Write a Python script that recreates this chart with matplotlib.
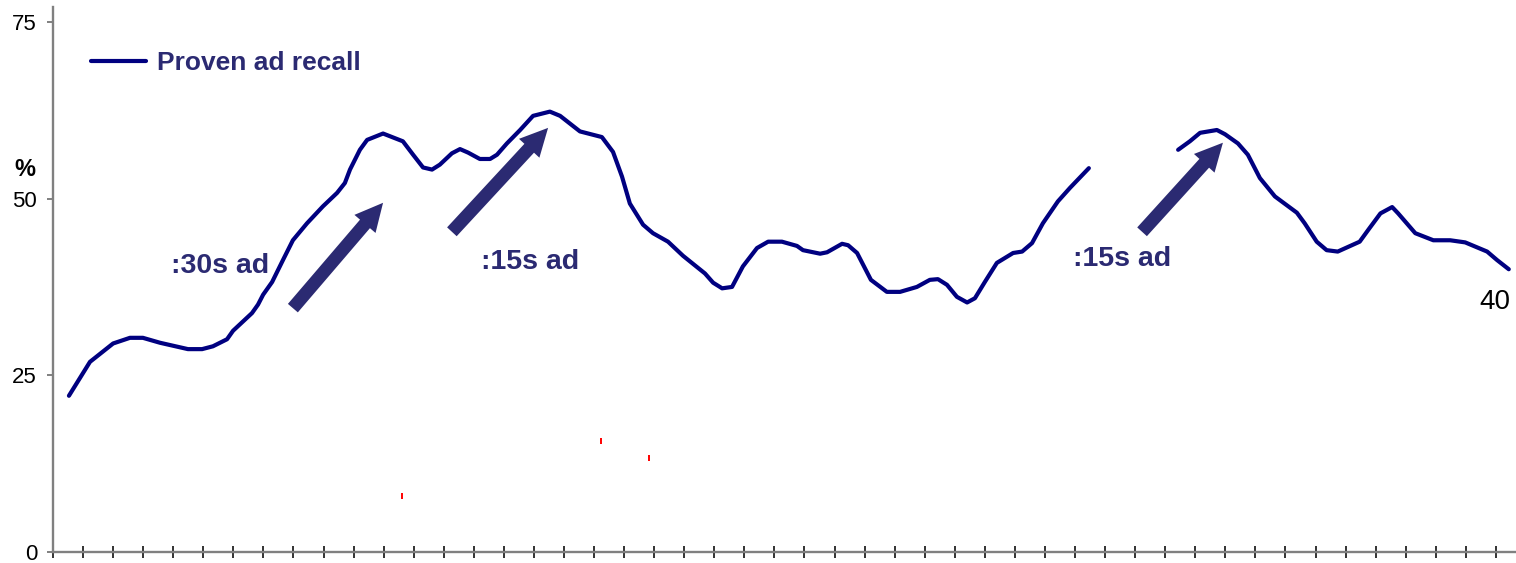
import numpy as np
import matplotlib
matplotlib.use("Agg")
import matplotlib.pyplot as plt

plt.rcParams['font.family'] = ['Liberation Sans', 'DejaVu Sans']

# ---- data (x in category units, y in %) ----
x_seg1 = [0.53, 1.23, 2.00, 2.56, 2.99, 3.56, 4.49, 4.96, 5.32, 5.79, 5.99, 6.62, 6.82,
          6.99, 7.29, 7.65, 7.98, 8.45, 8.98, 9.45, 9.71, 9.88, 10.21, 10.45, 10.98,
          11.64, 11.98, 12.31, 12.61, 12.87, 13.27, 13.54, 13.81, 14.20, 14.54, 14.77,
          15.10, 15.54, 15.97, 16.53, 16.87, 17.53, 18.26, 18.63, 18.93, 19.19, 19.63,
          19.96, 20.46, 20.96, 21.69, 21.96, 22.26, 22.59, 22.95, 23.42, 23.79, 24.25,
          24.75, 24.95, 25.52, 25.75, 26.25, 26.45, 26.75, 27.21, 27.74, 28.18, 28.74,
          29.17, 29.44, 29.74, 30.07, 30.41, 30.67, 31.00, 31.40, 31.94, 32.24, 32.57,
          32.93, 33.43, 33.83, 34.46]
y_seg1 = [22.1, 26.9, 29.5, 30.3, 30.3, 29.6, 28.7, 28.7, 29.1, 30.1, 31.3, 33.8, 35.0,
          36.4, 38.2, 41.3, 44.1, 46.5, 48.9, 50.8, 52.2, 54.1, 56.9, 58.3, 59.2,
          58.1, 56.2, 54.4, 54.1, 54.8, 56.4, 57.0, 56.5, 55.6, 55.6, 56.2,
          57.8, 59.7, 61.7, 62.3, 61.7, 59.5, 58.7, 56.6, 53.1, 49.3, 46.3,
          45.1, 43.9, 41.9, 39.4, 38.1, 37.3, 37.5, 40.4, 43.0, 43.9, 43.9,
          43.3, 42.7, 42.2, 42.4, 43.6, 43.4, 42.3, 38.5, 36.8, 36.8, 37.5,
          38.5, 38.6, 37.8, 36.1, 35.3, 35.9, 38.2, 40.9, 42.3, 42.5, 43.7,
          46.5, 49.6, 51.5, 54.3]
x_seg2 = [37.43, 37.82, 38.16, 38.72, 38.99, 39.42, 39.75, 40.15, 40.65, 41.38, 41.64,
          42.04, 42.37, 42.74, 43.47, 43.76, 44.16, 44.55, 44.75, 45.32, 45.92, 46.48,
          46.98, 47.71, 48.04, 48.43]
y_seg2 = [56.9, 58.1, 59.3, 59.7, 59.1, 57.8, 56.2, 52.9, 50.3, 48.0, 46.5,
          43.9, 42.7, 42.5, 43.9, 45.6, 47.9, 48.8, 47.9, 45.1, 44.1, 44.1,
          43.8, 42.5, 41.3, 40.0]
series_label = "Proven ad recall"
end_label = "40"
y_ticks = [0, 25, 50, 75]
n_categories = 49

ad_labels = [":30s ad", ":15s ad", ":15s ad"]
ad_label_x = [5.56, 15.87, 35.55]
ad_label_y = [40.5, 41.0, 41.5]
arrow_tail = [(7.98, 34.5), (13.27, 45.3), (36.23, 45.3)]
arrow_tip = [(10.98, 49.4), (16.47, 60.0), (38.92, 57.9)]

red_x = [11.6, 18.23, 19.83]
red_y = [7.9, 15.7, 13.3]

# ---- styles ----
LINE = '#000080'
ANNO = '#2B2A72'
SPINE = '#808080'

W, H = 1516, 563
fig = plt.figure(figsize=(W / 100, H / 100), dpi=100)
ax = fig.add_axes([53 / W, 11 / H, 1 - 53 / W, (H - 7 - 11) / H])

x_all = x_seg1 + [np.nan] + x_seg2
y_all = y_seg1 + [np.nan] + y_seg2
ax.plot(x_all, y_all, color=LINE, lw=3.0, solid_joinstyle='round',
        solid_capstyle='round', label=series_label, zorder=3)

ax.plot(red_x, red_y, ls='none', marker='|', color='red', ms=4.5, mew=1.4)

ax.set_xlim(0, 48.67)
ax.set_ylim(0, 77.1)

for s in ['top', 'right']:
    ax.spines[s].set_visible(False)
for s in ['left', 'bottom']:
    ax.spines[s].set_color(SPINE)
    ax.spines[s].set_linewidth(1.7)

ax.set_yticks(y_ticks)
ax.set_yticklabels([str(v) for v in y_ticks], fontsize=16)
ax.tick_params(axis='y', length=4.5, width=1.4, color=SPINE, pad=7)
ax.set_xticks(np.arange(0, n_categories))
ax.set_xticklabels([])
ax.tick_params(axis='x', direction='inout', length=8.5, width=1.4, color='#333333')

ax.text(-0.93, 54.1, '%', fontsize=17, fontweight='bold', ha='center', va='center',
        clip_on=False)

for lab, lx, ly in zip(ad_labels, ad_label_x, ad_label_y):
    ax.text(lx, ly, lab, fontsize=20.5, fontweight='bold', color=ANNO,
            ha='center', va='center')

for (tx, ty), (hx, hy) in zip(arrow_tail, arrow_tip):
    ax.annotate('', xy=(hx, hy), xytext=(tx, ty),
                arrowprops=dict(arrowstyle='simple,head_length=1.0,head_width=1.0,tail_width=0.47',
                                color=ANNO, shrinkA=0, shrinkB=0, mutation_scale=20, lw=0))

ax.text(x_seg2[-1] - 0.46, y_seg2[-1] - 4.7, end_label, fontsize=20,
        ha='center', va='center', color='black')

leg = ax.legend(loc='center left', bbox_to_anchor=(91 / W, 1 - 63 / H),
                bbox_transform=fig.transFigure, frameon=False,
                prop={'weight': 'bold', 'size': 19}, labelcolor=ANNO,
                handlelength=2.1, handletextpad=0.4, borderpad=0, borderaxespad=0)

fig.savefig('out.png', dpi=100)
